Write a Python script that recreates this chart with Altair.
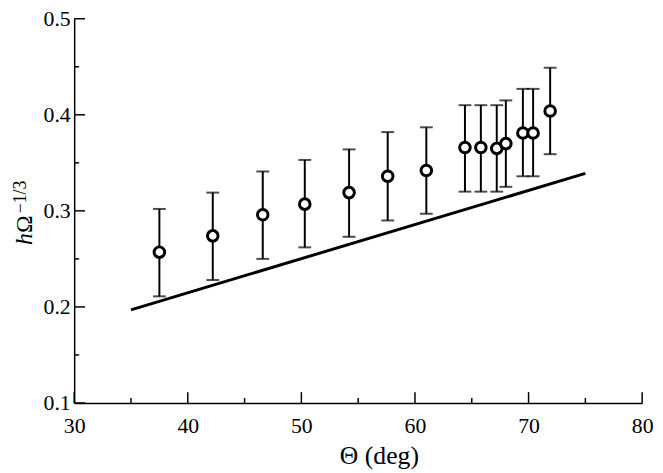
import altair as alt
import pandas as pd

# measured data (Theta in deg, h Omega^-1/3 with error-bar limits)
theta = [37.5, 42.2, 46.6, 50.3, 54.2, 57.6, 61.0, 64.4, 65.8, 67.2, 68.0, 69.5, 70.4, 71.9]
h_val = [0.257, 0.274, 0.296, 0.307, 0.319, 0.336, 0.342, 0.366, 0.366, 0.365, 0.370, 0.381, 0.381, 0.404]
h_lo = [0.211, 0.228, 0.250, 0.262, 0.273, 0.290, 0.297, 0.320, 0.320, 0.320, 0.325, 0.336, 0.336, 0.359]
h_hi = [0.302, 0.319, 0.341, 0.353, 0.364, 0.382, 0.387, 0.410, 0.410, 0.410, 0.415, 0.427, 0.427, 0.449]

# theory line
line_theta = [35, 75]
line_h = [0.197, 0.339]

# axis ticks
x_major = [30, 40, 50, 60, 70, 80]
x_minor = [35, 45, 55, 65, 75]
y_major = [0.1, 0.2, 0.3, 0.4, 0.5]
y_minor = [0.15, 0.25, 0.35, 0.45]

W, H = 575, 389
FONT = "Liberation Serif"

pts = pd.DataFrame({"theta": theta, "h": h_val, "lo": h_lo, "hi": h_hi})
line_df = pd.DataFrame({"theta": line_theta, "h": line_h})

xs = alt.Scale(domain=[30, 80], nice=False, zero=False)
ys = alt.Scale(domain=[0.1, 0.5], nice=False, zero=False)

x_axis = alt.Axis(values=x_major, title=None, format="d", labelPadding=13,
                  labelFlush=False, labelOverlap=False)
y_axis = alt.Axis(values=y_major, title=None, format=".1f", labelPadding=4,
                  labelFlush=False, labelOverlap=False)

base = alt.Chart(pts)

line = alt.Chart(line_df).mark_line(color="black", strokeWidth=3).encode(
    x=alt.X("theta:Q", scale=xs, axis=x_axis),
    y=alt.Y("h:Q", scale=ys, axis=y_axis),
)

bars = base.mark_rule(color="black", strokeWidth=2).encode(
    x=alt.X("theta:Q", scale=xs),
    y=alt.Y("lo:Q", scale=ys),
    y2="hi:Q",
)
cap_lo = base.mark_tick(orient="horizontal", size=13, thickness=2, color="black").encode(
    x=alt.X("theta:Q", scale=xs), y=alt.Y("lo:Q", scale=ys))
cap_hi = base.mark_tick(orient="horizontal", size=13, thickness=2, color="black").encode(
    x=alt.X("theta:Q", scale=xs), y=alt.Y("hi:Q", scale=ys))

points = base.mark_point(shape="circle", filled=True, fill="white", stroke="black",
                         strokeWidth=3, size=115, opacity=1).encode(
    x=alt.X("theta:Q", scale=xs), y=alt.Y("h:Q", scale=ys))

# inward ticks
xmaj = alt.Chart(pd.DataFrame({"t": x_major})).mark_rule(color="black", strokeWidth=1.5).encode(
    x=alt.X("t:Q", scale=xs), y=alt.value(H), y2=alt.value(H - 11))
xmin = alt.Chart(pd.DataFrame({"t": x_minor})).mark_rule(color="black", strokeWidth=1.5).encode(
    x=alt.X("t:Q", scale=xs), y=alt.value(H), y2=alt.value(H - 5))
ymaj = alt.Chart(pd.DataFrame({"t": y_major})).mark_rule(color="black", strokeWidth=1.5).encode(
    y=alt.Y("t:Q", scale=ys), x=alt.value(0), x2=alt.value(11))
ymin = alt.Chart(pd.DataFrame({"t": y_minor})).mark_rule(color="black", strokeWidth=1.5).encode(
    y=alt.Y("t:Q", scale=ys), x=alt.value(0), x2=alt.value(5))

# titles
def txt(s, x, y, size, angle=0, style="normal", align="left", baseline="alphabetic"):
    kw = dict(font=FONT, fontSize=size, color="black", align=align,
              baseline=baseline, fontStyle=style)
    if angle:
        kw["angle"] = angle
    return alt.Chart(pd.DataFrame({"s": [s]})).mark_text(**kw).encode(
        text="s:N", x=alt.value(x), y=alt.value(y))

x_title = txt("Θ (deg)", 309, 451, 26, align="center")
y_h = txt("h", -43, 229, 24, angle=270, style="italic")
y_om = txt("Ω", -43, 217, 24, angle=270)
y_sup = txt("−1/3", -49, 197, 18, angle=270)

chart = alt.layer(line, bars, cap_lo, cap_hi, points, xmaj, xmin, ymaj, ymin,
                  x_title, y_h, y_om, y_sup).properties(
    width=W, height=H, autosize="none",
    padding={"left": 67, "top": 8, "right": 13, "bottom": 68},
).configure_view(stroke=None).configure_axis(
    grid=False, ticks=False, domainColor="black", domainWidth=1.5,
    labelFont=FONT, labelFontSize=22, labelColor="black",
)

chart.save("out.html", embed_options={"renderer": "svg", "actions": False})
